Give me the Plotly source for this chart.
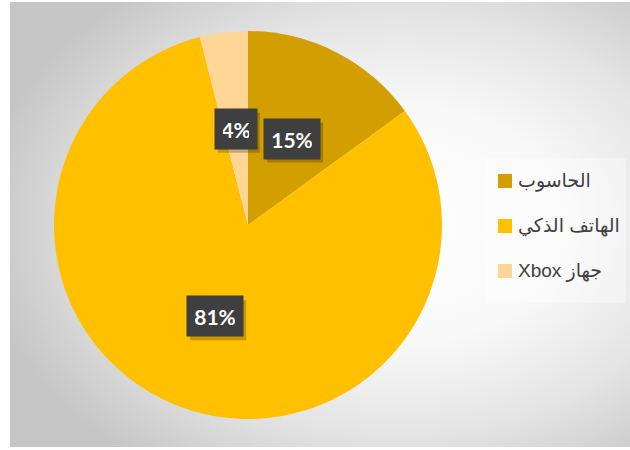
import math
import base64
import plotly.graph_objects as go

# ---- data ----
labels = ["الحاسوب", "الهاتف الذكي", "جهاز Xbox"]
values = [15, 81, 4]
colors = ["#D39E00", "#FFC000", "#FFD696"]

W, H = 630, 450
cx_px, cy_px, R_px = 248, 225, 194

def px_x(x):
    return x / W

def px_y(y):
    return 1 - y / H

# background radial gradient (chart area)
svg = f'''<svg xmlns="http://www.w3.org/2000/svg" width="620" height="445" viewBox="0 0 620 445" preserveAspectRatio="none">
<defs><radialGradient id="g" gradientUnits="userSpaceOnUse" cx="0" cy="0" r="1"
 gradientTransform="translate(390 223) scale(420 300)">
<stop offset="0" stop-color="#ffffff"/>
<stop offset="0.4" stop-color="#f8f8f8"/>
<stop offset="0.7" stop-color="#e4e4e4"/>
<stop offset="1" stop-color="#c6c6c6"/>
</radialGradient></defs>
<rect x="0" y="0" width="620" height="445" fill="url(#g)"/>
</svg>'''
bg_src = "data:image/svg+xml;base64," + base64.b64encode(svg.encode()).decode()

fig = go.Figure()
fig.add_trace(go.Pie(
    labels=labels,
    values=values,
    marker=dict(colors=colors, line=dict(width=0)),
    sort=False,
    direction="clockwise",
    rotation=0,
    textinfo="none",
    hoverinfo="label+percent",
    showlegend=False,
    domain=dict(x=[px_x(cx_px - R_px), px_x(cx_px + R_px)],
                y=[px_y(cy_px + R_px), px_y(cy_px - R_px)]),
))

annotations = []
shapes = []
total = sum(values)
cum = 0
PAD = 8
for v in values:
    mid = (cum + v / 2) / total * 2 * math.pi
    cum += v
    lx = cx_px + 0.5 * R_px * math.sin(mid)
    ly = cy_px - 0.5 * R_px * math.cos(mid)
    txt = f"{round(v / total * 100)}%"
    bw = 14 * len(txt) - 2
    bh = 24
    hw, hh = bw / 2 + PAD, bh / 2 + PAD
    # soft shadow (shape, pixel sized)
    shapes.append(dict(
        type="rect", xref="paper", yref="paper",
        xsizemode="pixel", ysizemode="pixel",
        xanchor=px_x(lx), yanchor=px_y(ly),
        x0=-hw + 3, x1=hw + 3, y0=-hh - 4, y1=hh - 4,
        fillcolor="rgba(0,0,0,0.22)", line=dict(width=0), layer="above"))
    annotations.append(dict(
        x=px_x(lx), y=px_y(ly), xref="paper", yref="paper", showarrow=False,
        xanchor="center", yanchor="middle", width=bw, height=bh,
        text=f"<b>{txt}</b>", font=dict(family="Lato", size=21, color="#ffffff"),
        bgcolor="#3f3f3f", borderpad=PAD))

shapes.append(dict(type="rect", xref="paper", yref="paper",
                   x0=px_x(485), x1=px_x(626), y0=px_y(303), y1=px_y(158),
                   fillcolor="rgba(255,255,255,0.35)", line=dict(width=0), layer="below"))

leg_y0, leg_dy = 181, 45
for i, (lab, col) in enumerate(zip(labels, colors)):
    yc = leg_y0 + i * leg_dy
    shapes.append(dict(type="rect", xref="paper", yref="paper",
                       x0=px_x(498), x1=px_x(512), y0=px_y(yc + 7), y1=px_y(yc - 7),
                       fillcolor=col, line=dict(width=0)))
    annotations.append(dict(
        x=px_x(516), y=px_y(yc), xref="paper", yref="paper", showarrow=False,
        xanchor="left", yanchor="middle",
        text="\u202b" + lab + "\u202c",
        font=dict(family="Liberation Sans, DejaVu Sans, Arial", size=19, color="#404040")))

fig.update_layout(
    width=W, height=H,
    margin=dict(l=0, r=0, t=0, b=0),
    paper_bgcolor="#ffffff",
    plot_bgcolor="rgba(0,0,0,0)",
    annotations=annotations,
    shapes=shapes,
    images=[dict(source=bg_src, xref="paper", yref="paper",
                 x=px_x(10), y=px_y(2), sizex=620 / W, sizey=445 / H,
                 xanchor="left", yanchor="top", sizing="stretch", layer="below")],
)

fig.write_html("out.html")
